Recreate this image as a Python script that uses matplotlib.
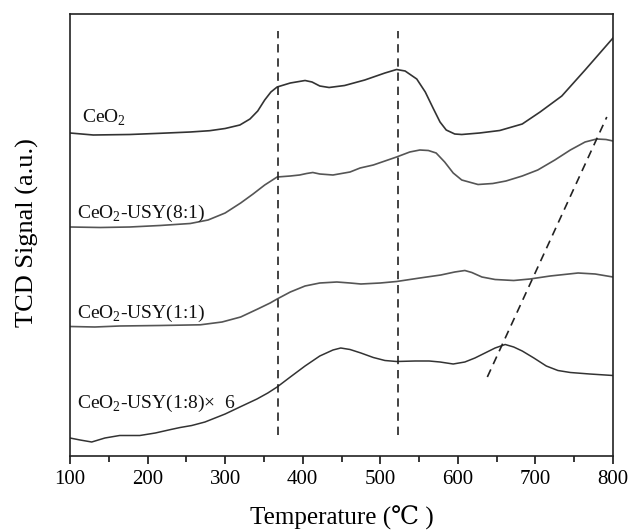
import matplotlib
matplotlib.use("Agg")
import matplotlib.pyplot as plt

plt.rcParams['font.family'] = ['Liberation Serif', 'DejaVu Serif']
plt.rcParams['mathtext.fontset'] = 'custom'
plt.rcParams['mathtext.rm'] = 'Liberation Serif'

# ---- data (temperature in °C, signal in arbitrary units, offset per curve) ----
t_ceo2 = [100, 130, 177, 216, 255, 280, 300, 319, 332, 342, 351, 359, 367, 384, 403, 412, 422, 434,
          454, 480, 506, 521, 532, 547, 558, 568, 577, 585, 596, 605, 628, 654, 683, 706, 734, 764, 800]
s_ceo2 = [323, 321, 321.5, 322.7, 324, 325.3, 327.5, 331, 337, 345, 356, 364, 369, 373, 375.5, 374, 370, 368.5,
          370.5, 376, 383, 386.5, 385, 377, 364, 348, 334, 326, 322, 321.5, 323, 325.5, 332, 344, 360, 386, 418]

t_81 = [100, 139, 177, 216, 255, 278, 300, 320, 336, 351, 367, 384, 396, 405, 413, 422, 439, 461, 474, 491,
        506, 521, 538, 551, 562, 572, 583, 594, 605, 626, 645, 662, 683, 703, 725, 745, 764, 779, 791, 800]
s_81 = [229, 228.5, 229, 230.5, 232.5, 236, 243, 253, 262, 271, 279, 280, 281, 282.5, 283.5, 282, 281, 284, 288, 291,
        295, 299, 304, 306, 305.5, 303, 294, 283, 276, 271.5, 272.5, 275, 280, 286, 296, 306, 314, 317, 316.5, 315]

t_11 = [100, 132, 164, 216, 268, 296, 320, 342, 358, 367, 384, 403, 422, 444, 461, 475, 500, 521, 551, 578,
        596, 609, 618, 631, 648, 672, 693, 719, 755, 777, 800]
s_11 = [129.5, 129, 130, 130.5, 131.2, 134, 139, 147, 153, 157, 164, 170, 173, 174, 173, 172, 173, 174.5, 178, 181,
        184, 185.5, 183.5, 179, 176.5, 175.5, 177, 180, 183, 182, 179]

t_18 = [100, 113, 128, 145, 164, 190, 210, 230, 242, 257, 274, 287, 300, 319, 341, 355, 367, 384, 403, 422, 439,
        449, 461, 475, 491, 506, 521, 545, 563, 577, 594, 609, 622, 635, 648, 661, 672, 683, 698, 714, 729, 745,
        770, 800]
s_18 = [18, 16, 14, 18, 20.5, 20.5, 23, 26.5, 28.5, 30.5, 34, 38, 42, 49, 57, 63, 69, 79, 90, 100, 106,
        108, 106.5, 103, 98.5, 95.5, 94.5, 95, 95, 94, 92, 94, 98, 103, 108, 111.5, 109, 105, 98, 90, 85.5, 83.5,
        82, 80.5]

labels = ["CeO$_2$", "CeO$_2$-USY(8:1)", "CeO$_2$-USY(1:1)", "CeO$_2$-USY(1:8)\u00d7  6"]
label_x = [115, 108.5, 108.5, 108.5]
label_y = [333, 238, 138, 48]

vlines_t = [368, 523]
vline_span = [21, 425]
diag_t = [638, 792]
diag_s = [79, 339]

xticks = [100, 200, 300, 400, 500, 600, 700, 800]

# ---- figure ----
fig = plt.figure(figsize=(6.3, 5.3), dpi=100)
ax = fig.add_axes([70/630, 1-456/530, 543/630, 442/530])

ax.plot(t_ceo2, s_ceo2, color='#333333', lw=1.2)
ax.plot(t_81, s_81, color='#555555', lw=1.2)
ax.plot(t_11, s_11, color='#555555', lw=1.2)
ax.plot(t_18, s_18, color='#333333', lw=1.1)

for t in vlines_t:
    ax.plot([t, t], vline_span, color='#222222', lw=1.2, ls=(0, (5, 3.5)))
ax.plot(diag_t, diag_s, color='#222222', lw=1.2, ls=(0, (5, 3.5)))

for lab, x, y in zip(labels, label_x, label_y):
    ax.text(x, y, lab, fontsize=14, ha='left', va='baseline', color='#111111')

ax.set_xlim(100, 800)
ax.set_ylim(0, 442)
ax.set_xticks(xticks)
ax.set_xticks(range(150, 800, 100), minor=True)
ax.set_yticks([])
ax.tick_params(axis='x', which='major', direction='out', length=6, width=1.1, labelsize=15, pad=4)
ax.tick_params(axis='x', which='minor', direction='out', length=4, width=1.1)
for sp in ax.spines.values():
    sp.set_linewidth(1.2)
    sp.set_color('#222222')

fig.text(342/630, 1-525/530, "Temperature (\u2103 )", fontsize=18, ha='center', va='baseline')
fig.text(27/630, 1-233/530, "TCD Signal (a.u.)", fontsize=19, ha='center', va='center', rotation=90)

fig.savefig("out.png", dpi=100)
